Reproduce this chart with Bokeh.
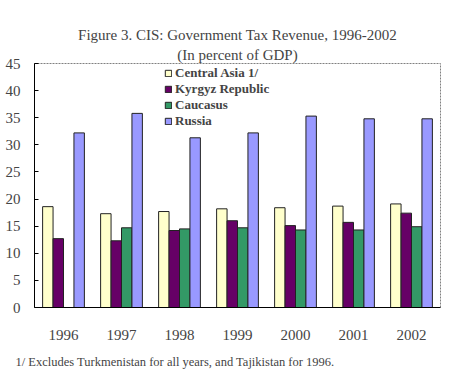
from bokeh.plotting import figure
from bokeh.models import (ColumnDataSource, Title, FixedTicker, Legend, LegendItem,
                          LinearAxis)
from bokeh.transform import dodge
from bokeh.embed import file_html
from bokeh.resources import INLINE

years = ["1996", "1997", "1998", "1999", "2000", "2001", "2002"]
central_asia = [18.6, 17.3, 17.7, 18.2, 18.4, 18.7, 19.1]
kyrgyz = [12.7, 12.3, 14.2, 16.0, 15.1, 15.7, 17.4]
caucasus = [float("nan"), 14.7, 14.5, 14.7, 14.3, 14.3, 14.9]
russia = [32.2, 35.8, 31.3, 32.2, 35.3, 34.8, 34.8]

series_names = ["Central Asia 1/", "Kyrgyz Republic", "Caucasus", "Russia"]
series_keys = ["ca", "kg", "cc", "ru"]
colors = ["#FFFFCC", "#660066", "#339966", "#9999FF"]
y_ticks = [0, 5, 10, 15, 20, 25, 30, 35, 40, 45]

title_main = "Figure 3. CIS: Government Tax Revenue, 1996-2002"
title_sub = "(In percent of GDP)"
footnote = "1/ Excludes Turkmenistan for all years, and Tajikistan for 1996."

source = ColumnDataSource(data=dict(year=years, ca=central_asia, kg=kyrgyz, cc=caucasus, ru=russia))

SERIF = "Liberation Serif"

p = figure(x_range=years, y_range=(0, 45), width=450, height=382,
           output_backend="svg", toolbar_location=None,
           min_border_left=34, min_border_right=10, min_border_top=63, min_border_bottom=75)

# invisible spacer (no ticks, no labels, no line) between the frame and the subtitle
spacer = LinearAxis(ticker=FixedTicker(ticks=[]),
                    major_tick_out=25, major_tick_in=0, major_tick_line_color="white",
                    minor_tick_line_color=None, axis_line_color=None,
                    major_label_standoff=0)
p.add_layout(spacer, "above")

p.title.text = title_main
p.title.align = "center"
p.title.text_font = SERIF
p.title.text_font_size = "15px"
p.title.text_font_style = "normal"
p.title.standoff = 2
p.add_layout(Title(text=title_sub, align="center",
                   text_font=SERIF, text_font_size="15px", text_font_style="normal",
                   standoff=2), "above")
p.add_layout(Title(text=footnote,
                   align="left", text_font=SERIF, text_font_size="12.5px",
                   text_font_style="normal", offset=-19, standoff=20), "below")

offsets = [-0.27, -0.09, 0.09, 0.27]
items = []
for key, name, col, off in zip(series_keys, series_names, colors, offsets):
    r = p.vbar(x=dodge("year", off, range=p.x_range), top=key, width=0.18, source=source,
               fill_color=col, line_color="#222222", line_width=1)
    items.append(LegendItem(label=name, renderers=[r]))

legend = Legend(items=items, location=(130, 178), orientation="vertical",
                label_text_font=SERIF, label_text_font_size="13px", label_text_font_style="bold",
                glyph_width=8, glyph_height=8, label_height=16, label_standoff=3,
                spacing=0, padding=2, margin=0, border_line_color=None,
                background_fill_alpha=0)
p.add_layout(legend, "center")

p.xgrid.grid_line_color = None
p.ygrid.grid_line_color = None
p.x_range.range_padding = 0

p.yaxis.ticker = FixedTicker(ticks=y_ticks)
p.yaxis.major_tick_in = 4
p.yaxis.major_tick_out = 0
p.yaxis.minor_tick_line_color = None
p.yaxis.major_label_text_font = SERIF
p.yaxis.major_label_text_font_size = "15px"
p.yaxis.major_label_standoff = 14
p.yaxis.axis_line_color = "black"

xax = p.below[0]
xax.major_tick_line_color = None
xax.minor_tick_line_color = None
xax.major_label_text_font = SERIF
xax.major_label_text_font_size = "15px"
xax.major_label_standoff = 16
xax.axis_line_color = "black"

p.outline_line_color = "#808080"
p.outline_line_dash = "2 1"
p.outline_line_width = 1

open("out.html", "w").write(file_html(p, INLINE))
